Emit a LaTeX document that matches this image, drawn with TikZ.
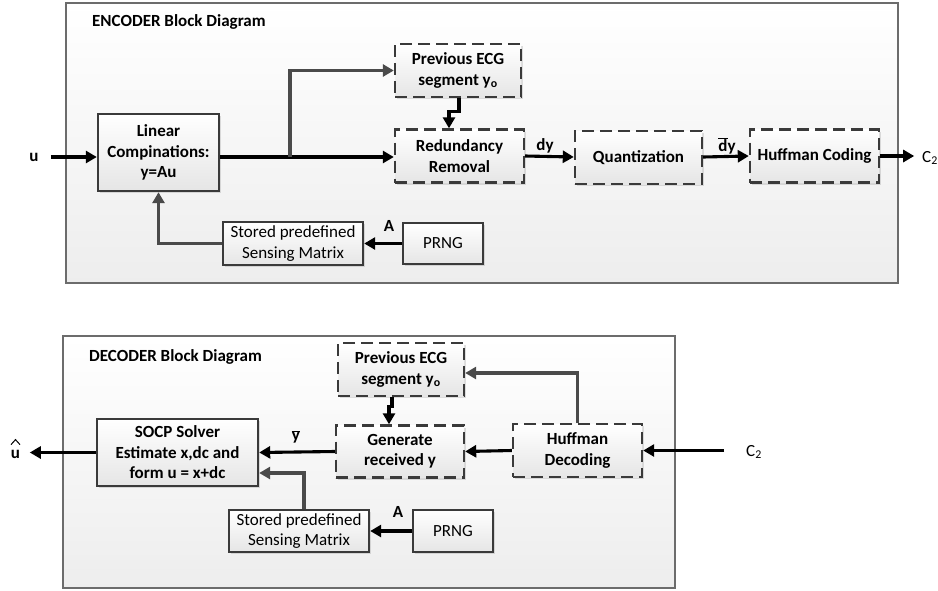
\documentclass[tikz,border=0pt]{standalone}
\usepackage{fontspec}
\setmainfont{Carlito}
\usetikzlibrary{arrows.meta,shadows}
\definecolor{edge}{HTML}{3A3A3A}
\definecolor{lineg}{HTML}{4A4A4A}
\begin{document}
\begin{tikzpicture}[x=1pt,y=-1pt,
  frame/.style={draw=gray!85!black,line width=1.2pt,top color=white,bottom color=black!7},
  blk/.style={draw=edge,line width=2.4pt,top color=white,bottom color=black!10,
     drop shadow={shadow xshift=2pt,shadow yshift=-2pt,opacity=0.25},
     align=center,inner sep=2pt,font=\fontsize{17}{20.5}\selectfont\bfseries},
  plainblk/.style={blk,font=\fontsize{17}{20.5}\selectfont},
  dblk/.style={blk,dash pattern=on 12pt off 6pt},
  arr/.style={line width=3.1pt,draw=black,-{Triangle[length=11pt,width=12pt]}},
  garr/.style={arr,draw=lineg},
  lbl/.style={font=\fontsize{17}{20}\selectfont\bfseries,inner sep=0pt},
  ttl/.style={font=\fontsize{17}{20}\selectfont\bfseries,anchor=west,inner sep=0pt},
]
\useasboundingbox (0,0) rectangle (938,590);
% ---------------- ENCODER ----------------
\path[frame] (66,3) rectangle (898,283);
\node[ttl] (enct) at (92,22) {ENCODER Block Diagram};

\node[blk,minimum width=121pt,minimum height=77pt] (lin) at (158.5,152.5) {Linear\\Compinations:\\y=Au};
\node[dblk,minimum width=126pt,minimum height=53pt] (prev) at (458,70.5) {Previous ECG\\segment y\textsubscript{o}};
\node[dblk,minimum width=129pt,minimum height=53pt] (red) at (459.5,156) {Redundancy\\Removal};
\node[dblk,minimum width=127pt,minimum height=53pt] (quant) at (638.5,157.5) {Quantization};
\node[dblk,minimum width=129pt,minimum height=53pt] (huff) at (814.5,156) {Huffman Coding};
\node[plainblk,minimum width=140pt,minimum height=43pt] (stor) at (293,243.5) {Stored predefined\\Sensing Matrix};
\node[plainblk,minimum width=80pt,minimum height=41pt] (prng) at (443,243.5) {PRNG};

\node[lbl] (u) at (34,157) {u};
\node[lbl] (dy) at (545,146) {dy};
\node[lbl] (dyb) at (727,146) {$\overline{\mbox{\bfseries d}}$y};
\node[font=\fontsize{17}{20}\selectfont,inner sep=0pt,anchor=west] (c2) at (922,158) {C\textsubscript{2}};
\node[lbl] (A1) at (389,226) {A};

\coordinate (br) at (290,157);
\draw[arr] ([xshift=-46pt,yshift=-4.5pt]lin.west) -- ([yshift=-4.5pt]lin.west);
\draw[line width=3.1pt] ([yshift=-4.5pt]lin.east) -- (br);
\draw[arr] (br) -- ([yshift=-1pt]red.west);
\draw[garr] (br) |- (prev.west);
\draw[arr] ([xshift=1pt]prev.south) -- ++(0,13) -| ([xshift=-10.5pt]red.north);
\draw[arr] (red.east) -- ([yshift=0.5pt]quant.west);
\draw[arr] ([yshift=0.5pt]quant.east) -- (huff.west);
\draw[arr] (huff.east) -- ++(34,0);
\draw[arr] (prng.west) -- (stor.west -| stor.east);
\draw[garr] (stor.west) -| (lin.south);

% ---------------- DECODER ----------------
\path[frame] (63,336) rectangle (675,588);
\node[ttl] (dect) at (89,357) {DECODER Block Diagram};

\node[dblk,minimum width=126pt,minimum height=53pt] (dprev) at (401,369.5) {Previous ECG\\segment y\textsubscript{o}};
\node[dblk,minimum width=128pt,minimum height=52pt] (gen) at (400,451.5) {Generate\\received y};
\node[blk,minimum width=161pt,minimum height=67pt] (socp) at (177.5,452.5) {SOCP Solver\\Estimate x,dc and\\form u = x+dc};
\node[plainblk,minimum width=140pt,minimum height=42pt] (dstor) at (299,531) {Stored predefined\\Sensing Matrix};
\node[plainblk,minimum width=80pt,minimum height=42pt] (dprng) at (453,531) {PRNG};
\node[dblk,minimum width=129pt,minimum height=53pt] (hdec) at (577.5,450.5) {Huffman\\Decoding};

\node[lbl] (uh) at (15.5,454) {u};
\draw[line width=1pt,line join=miter] ([xshift=-4.5pt,yshift=5pt]uh.north) -- ([yshift=10pt]uh.north) -- ([xshift=4.5pt,yshift=5pt]uh.north);
\node[lbl] (yb) at (296,437) {$\overline{\mbox{\bfseries y}}$};
\node[font=\fontsize{17}{20}\selectfont,inner sep=0pt] (dc2) at (754,452) {C\textsubscript{2}};
\node[lbl] (A2) at (398,512) {A};

\draw[arr] (socp.west) -- ++(-66,0);
\draw[arr] (gen.west) -- (socp.east);
\draw[arr] (hdec.west) -- (gen.east);
\draw[arr] (hdec.east) ++(81,0) -- (hdec.east);
\draw[garr] (hdec.north) |- ([yshift=-3.5pt]dprev.east);
\draw[arr] ([xshift=-9pt]dprev.south) -- ++(0,9) -| ([xshift=-11pt]gen.north);
\draw[arr] (dprng.west) -- (dstor.east);
\draw[garr] ([xshift=5pt]dstor.north) |- ([yshift=-20.5pt]socp.east);
\end{tikzpicture}
\end{document}
